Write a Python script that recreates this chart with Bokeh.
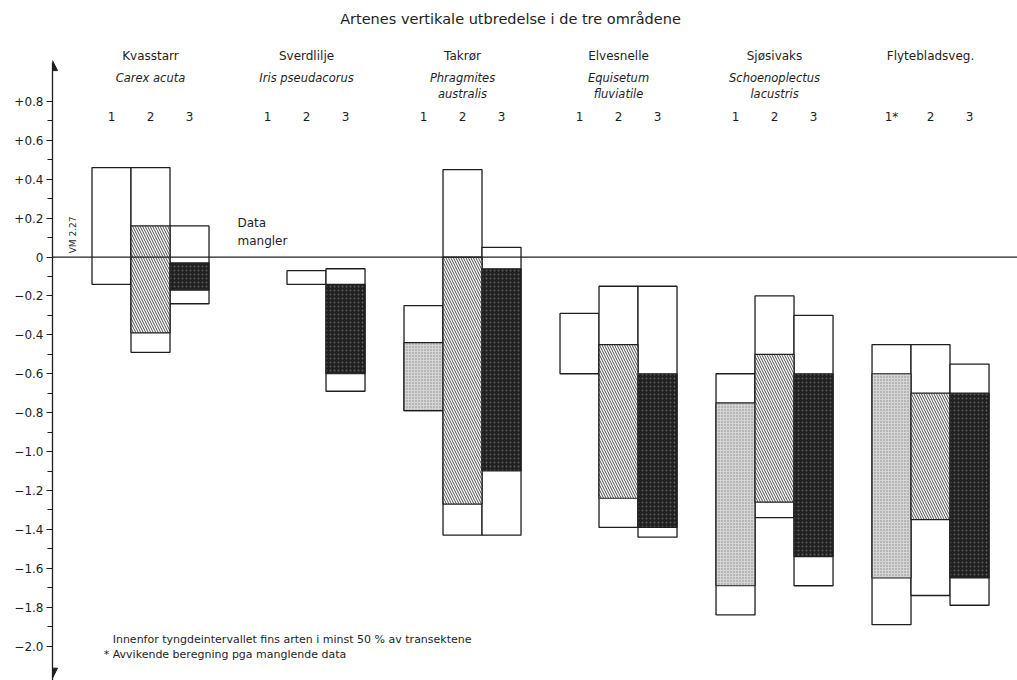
from bokeh.plotting import figure
from bokeh.models import Range1d, FixedTicker, Arrow, NormalHead, Span
from bokeh.core.properties import value
from bokeh.embed import file_html
from bokeh.resources import INLINE

# ---------------- data ----------------
chart_title = "Artenes vertikale utbredelse i de tre områdene"
species = ["Kvasstarr", "Sverdlilje", "Takrør", "Elvesnelle", "Sjøsivaks", "Flytebladsveg."]
latin_names = [["Carex acuta"], ["Iris pseudacorus"], ["Phragmites", "australis"],
               ["Equisetum", "fluviatile"], ["Schoenoplectus", "lacustris"], []]
area_labels = [["1", "2", "3"], ["1", "2", "3"], ["1", "2", "3"],
               ["1", "2", "3"], ["1", "2", "3"], ["1*", "2", "3"]]

# one entry per bar: species-major, area 1..3 ; None = no data
range_top    = [0.46, 0.46, 0.16,   None, -0.07, -0.06,   -0.25, 0.45, 0.05,
                -0.29, -0.15, -0.15,  -0.60, -0.20, -0.30,  -0.45, -0.45, -0.55]
range_bottom = [-0.14, -0.49, -0.24,  None, -0.14, -0.69,  -0.79, -1.43, -1.43,
                -0.60, -1.39, -1.44,  -1.84, -1.34, -1.69,  -1.89, -1.74, -1.79]
core_top     = [None, 0.16, -0.03,   None, None, -0.14,   -0.44, 0.00, -0.06,
                None, -0.45, -0.60,  -0.75, -0.50, -0.60,  -0.60, -0.70, -0.70]
core_bottom  = [None, -0.39, -0.17,  None, None, -0.60,   -0.79, -1.27, -1.10,
                None, -1.24, -1.39,  -1.69, -1.26, -1.54,  -1.65, -1.35, -1.65]

tick_values = [0.8, 0.6, 0.4, 0.2, 0.0, -0.2, -0.4, -0.6, -0.8, -1.0,
               -1.2, -1.4, -1.6, -1.8, -2.0]
tick_labels = ["+0.8", "+0.6", "+0.4", "+0.2", "0", "−0.2", "−0.4", "−0.6", "−0.8", "−1.0",
               "−1.2", "−1.4", "−1.6", "−1.8", "−2.0"]
minor_values = [0.7, 0.5, 0.3, 0.1, -0.1, -0.3, -0.5, -0.7, -0.9, -1.1,
                -1.3, -1.5, -1.7, -1.9]

reference_label = "VM 2.27"
missing_note = ["Data", "mangler"]
footnotes = ["Innenfor tyngdeintervallet fins arten i minst 50 % av transektene",
             "* Avvikende beregning pga manglende data"]

# ---------------- figure ----------------
FONT = value("DejaVu Sans")
INK = "#1e1e1e"
X0, X1 = -0.513, 24.23
Y0, Y1 = -2.177, 1.319

p = figure(width=1017, height=680, x_range=Range1d(X0, X1), y_range=Range1d(Y0, Y1),
           toolbar_location=None, output_backend="svg", x_axis_type=None,
           min_border_left=52, min_border_right=0, min_border_top=0, min_border_bottom=0)
p.outline_line_color = None
p.grid.visible = False
p.background_fill_color = "white"

ax = p.yaxis[0]
ax.ticker = FixedTicker(ticks=tick_values, minor_ticks=minor_values)
ax.major_label_overrides = {v: l for v, l in zip(tick_values, tick_labels)}
ax.bounds = (Y0, 1.0)
ax.axis_line_color = INK
ax.axis_line_width = 1.3
ax.major_tick_in = 0
ax.major_tick_out = 6
ax.minor_tick_in = 0
ax.minor_tick_out = 5
ax.major_tick_line_color = INK
ax.minor_tick_line_color = INK
ax.major_label_standoff = 3
ax.major_label_text_font = "DejaVu Sans"
ax.major_label_text_font_size = "12px"
ax.major_label_text_color = INK

# arrow heads of the vertical axis
p.add_layout(Arrow(end=NormalHead(size=10, fill_color=INK, line_color=INK),
                   x_start=X0, y_start=0.9, x_end=X0, y_end=1.01, line_alpha=0))
p.add_layout(Arrow(end=NormalHead(size=10, fill_color=INK, line_color=INK),
                   x_start=X0, y_start=-2.0, x_end=X0, y_end=-2.165, line_alpha=0))

# bar positions
def xpos(i):
    g, b = divmod(i, 3)
    return 4 * g + 1 + b

styles = [
    dict(fill_color="#d4d4d4", hatch_pattern="dot", hatch_color="#8a8a8a", hatch_scale=3, hatch_weight=1),
    dict(fill_color="white", hatch_pattern="left_diagonal_line", hatch_color="#3a3a3a", hatch_scale=5, hatch_weight=0.9),
    dict(fill_color="#202020", hatch_pattern="dot", hatch_color="#5c5c5c", hatch_scale=4, hatch_weight=1),
]

# outer range boxes
ox = [i for i in range(len(range_top)) if range_top[i] is not None]
p.quad(left=[xpos(i) - 0.5 for i in ox], right=[xpos(i) + 0.5 for i in ox],
       top=[range_top[i] for i in ox], bottom=[range_bottom[i] for i in ox],
       fill_color="white", line_color=INK, line_width=1.3)

# core intervals
for b in range(3):
    ids = [i for i in range(len(core_top)) if core_top[i] is not None and i % 3 == b]
    p.quad(left=[xpos(i) - 0.5 for i in ids], right=[xpos(i) + 0.5 for i in ids],
           top=[core_top[i] for i in ids], bottom=[core_bottom[i] for i in ids],
           line_color=INK, line_width=1.2, **styles[b])

# zero line
p.add_layout(Span(location=0, dimension="width", line_color=INK, line_width=1.3))

# title
p.text(x=[11.23], y=[1.222], text=[chart_title], text_font=FONT,
       text_font_size="14.5px", text_align="center", text_baseline="middle", text_color=INK)

# species headers
gx = [4 * g + 2 for g in range(len(species))]
p.text(x=gx, y=[1.036] * len(species), text=species, text_font=FONT, text_font_size="12px",
       text_align="center", text_baseline="middle", text_color=INK)
lx, ly, lt = [], [], []
for g, names in enumerate(latin_names):
    for k, n in enumerate(names):
        lx.append(4 * g + 2)
        ly.append(0.923 - 0.083 * k)
        lt.append(n)
p.text(x=lx, y=ly, text=lt, text_font=FONT, text_font_size="11.5px", text_font_style="italic",
       text_align="center", text_baseline="middle", text_color=INK)

nx, nt = [], []
for g, labs in enumerate(area_labels):
    for b, l in enumerate(labs):
        nx.append(4 * g + 1 + b)
        nt.append(l)
p.text(x=nx, y=[0.722] * len(nx), text=nt, text_font=FONT, text_font_size="12px",
       text_align="center", text_baseline="middle", text_color=INK)

# side notes
p.text(x=[0.0], y=[0.114], text=[reference_label], angle=1.5708, text_font=FONT,
       text_font_size="9px", text_align="center", text_baseline="middle", text_color=INK)
p.text(x=[4.23, 4.23], y=[0.177, 0.085], text=missing_note, text_font=FONT,
       text_font_size="12px", text_align="left", text_baseline="middle", text_color=INK)
p.text(x=[1.03, 0.8], y=[-1.964, -2.041], text=footnotes, text_font=FONT,
       text_font_size="11px", text_align="left", text_baseline="middle", text_color=INK)

open("out.html", "w").write(file_html(p, INLINE))
